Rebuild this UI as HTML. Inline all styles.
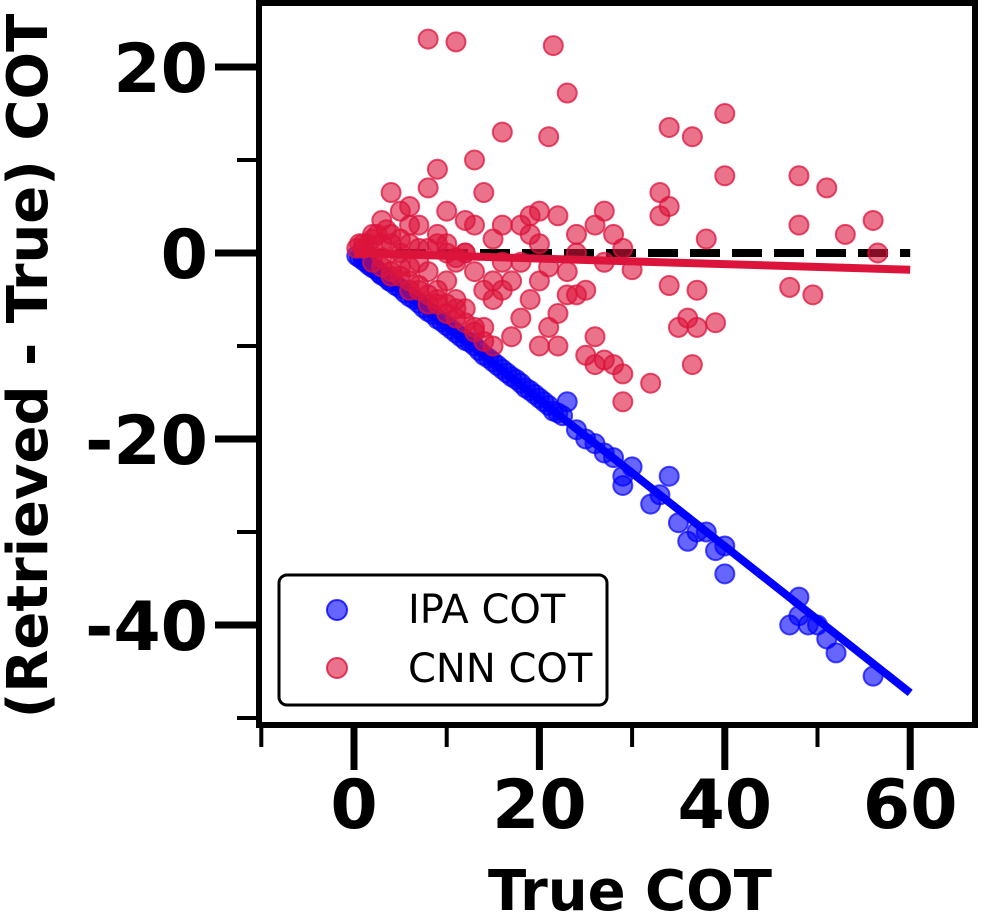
<!DOCTYPE html>
<html><head><meta charset="utf-8"><style>
body{margin:0;background:#fff;width:1004px;height:917px;overflow:hidden}
text{font-family:"DejaVu Sans","Liberation Sans",sans-serif}
</style></head><body>
<svg id="chart" width="1004" height="917" xmlns="http://www.w3.org/2000/svg">
<g id="marks"></g>
<rect x="259" y="3" width="716" height="722" fill="none" stroke="#000" stroke-width="6"/>
<g id="axes"></g>
<text x="630" y="910" font-size="56" font-weight="bold" text-anchor="middle">True COT</text>
<text transform="translate(47,366) rotate(-90)" font-size="56" font-weight="bold" text-anchor="middle">(Retrieved - True) COT</text>
<g>
<rect x="279" y="575" width="328" height="130" rx="8" fill="#fff" stroke="#000" stroke-width="3"/>
<circle cx="337" cy="610" r="10" fill="rgba(0,0,255,0.6)" stroke="rgba(0,0,255,0.8)" stroke-width="2"/>
<text x="408" y="623" font-size="40">IPA COT</text>
<circle cx="337" cy="668" r="10" fill="rgba(220,20,60,0.6)" stroke="rgba(220,20,60,0.8)" stroke-width="2"/>
<text x="408" y="682" font-size="40">CNN COT</text>
</g>
</svg>
<script>
const xTicks=[0,20,40,60];
const yTicks=[20,0,-20,-40];
const ipaX=[0.3,0.6,1,1.3,1.6,2,2.4,2.8,3,3.4,3.8,4,4.5,5,5.5,6,6.5,7,7.5,8,8.5,9,9.5,10,10.5,11,11.5,12,12.5,13,13.5,14,14.5,15,15.5,16,16.5,17,17.5,18,18.5,19,19.5,20,20.5,21,21.5,22,22.5,23,24,25,26,27,28,29,29,30,32,33,34,35,36,37,38,39,40,40,47,48,48,49,50,51,52,56];
const ipaY=[-0.3,-0.5,-0.8,-1,-1.3,-1.6,-1.8,-2.2,-2.4,-2.6,-3,-3.1,-3.5,-3.8,-4.3,-4.7,-5,-5.4,-5.9,-6.3,-6.6,-7.1,-7.4,-7.8,-8.2,-8.6,-9,-9.4,-9.6,-10,-10.5,-11,-11.3,-11.7,-12.1,-12.5,-12.9,-13.3,-13.6,-14,-14.5,-14.8,-15.2,-15.6,-16,-16.4,-17,-17.2,-17.5,-16,-19,-20,-20.5,-21.5,-22,-24,-25,-23,-27,-26,-24,-29,-31,-30,-30,-32,-31.5,-34.5,-40,-37,-39,-40,-40,-41.5,-43,-45.5];
const cnnX=[8,11,21.5,23,13,16,21,34,36.5,40,40,48,51,33,34,48,53,56,56.5,47,49.5,37,38,30,27,32,29,28,29,26,27,36.5,39,36,35,37,34,33,28,27,29,24,23,24,22,21,20,22,25,26,20,19,18,17,18,19,22,20,10,12,14,8,9,4,5,6,3,2,1,15,14,13,12,11,10,9,8,7,6,5,4,3,16,15,14,12,11,16,17,18,21,23,15,13,10,9,7,6,16,19,20,24,26,25,0.3,0.6,1,1.5,2,2.5,3,3.5,4,5,6,7,8,9,10,11,12,2,4,6,8,10,3,5,7,9,11,13,4,6,8,10,12,14,5,7,9,11,13,15];
const cnnY=[23,22.7,22.3,17.2,10,13,12.5,13.5,12.5,15,8.3,8.3,7,6.5,5,3,2,3.5,0,-3.7,-4.5,-4,1.5,-1.8,-1,-14,-16,-12,-13,-12,-11.5,-12,-7.5,-7,-8,-8,-3.5,4,2,4.5,0.5,0,-4.5,-4.5,-6.5,-8,-10,-10,-11,-9,-3,-5,-7,-9,-1,2,4,1,4.5,3.5,6.5,7,9,6.5,4.5,3,3.5,2,1,-3,-4,-2,0,-1,-3,-4,-2,-1,-1.5,0,1,-0.5,-4,-5,-8,-6,-5,-1,-3,3,-1.5,-2,1.5,3,1,2,3,5,3,4,4.5,2,3,-4,0.5,1,0.5,1,1.5,2,1,2.5,2,1.5,1,0.5,0.5,1,0,-0.5,0,-1,-2.5,-4,-5.5,-6.5,-1.5,-2.5,-4,-5.5,-7,-8.5,-2,-3,-4.5,-5.5,-7.5,-9.5,-1.5,-3.5,-5,-6,-8,-10];
const ipaFit=[[0,0],[60,-47.3]];
const cnnFit=[[0,0],[60,-1.8]];
const zeroRef=[[0,0],[60,0]];
const X=v=>354+v*9.27, Y=v=>253-v*9.3;
const ns="http://www.w3.org/2000/svg";
const marks=document.getElementById('marks'), axes=document.getElementById('axes');
function mk(tag,at,parent){const e=document.createElementNS(ns,tag);for(const k in at)e.setAttribute(k,at[k]);parent.appendChild(e);return e;}
ipaX.forEach((x,i)=>{const c=mk('circle',{cx:X(x),cy:Y(ipaY[i]),r:9.5,fill:'rgba(0,0,255,0.6)',stroke:'rgba(0,0,255,0.7)','stroke-width':2},marks);

});
let l=mk('line',{x1:X(zeroRef[0][0]),y1:Y(zeroRef[0][1]),x2:X(zeroRef[1][0]),y2:Y(zeroRef[1][1]),stroke:'#000','stroke-width':8,'stroke-dasharray':'30 12'},marks);


l=mk('line',{x1:X(ipaFit[0][0]),y1:Y(ipaFit[0][1]),x2:X(ipaFit[1][0]),y2:Y(ipaFit[1][1]),stroke:'#0000ff','stroke-width':8},marks);


cnnX.forEach((x,i)=>{const c=mk('circle',{cx:X(x),cy:Y(cnnY[i]),r:9.5,fill:'rgba(220,20,60,0.6)',stroke:'rgba(220,20,60,0.75)','stroke-width':2},marks);

});
l=mk('line',{x1:X(cnnFit[0][0]),y1:Y(cnnFit[0][1]),x2:X(cnnFit[1][0]),y2:Y(cnnFit[1][1]),stroke:'#dc143c','stroke-width':8},marks);


for(let v=-10;v<=60;v+=10){const maj=xTicks.includes(v);
const t=mk('line',{x1:X(v),x2:X(v),y1:725,y2:maj?770:747,stroke:'#000','stroke-width':maj?7:4},axes);

}
xTicks.forEach(v=>{const t=mk('text',{x:X(v),y:828,'font-size':68,'font-weight':'bold','text-anchor':'middle'},axes);t.textContent=v;

});
for(let v=-50;v<=20;v+=10){const maj=yTicks.includes(v);
const t=mk('line',{x1:maj?215:237,x2:259,y1:Y(v),y2:Y(v),stroke:'#000','stroke-width':maj?7:4},axes);

}
yTicks.forEach(v=>{const t=mk('text',{x:208,y:Y(v)+25,'font-size':68,'font-weight':'bold','text-anchor':'end'},axes);t.textContent=v;

});
</script>
</body></html>
